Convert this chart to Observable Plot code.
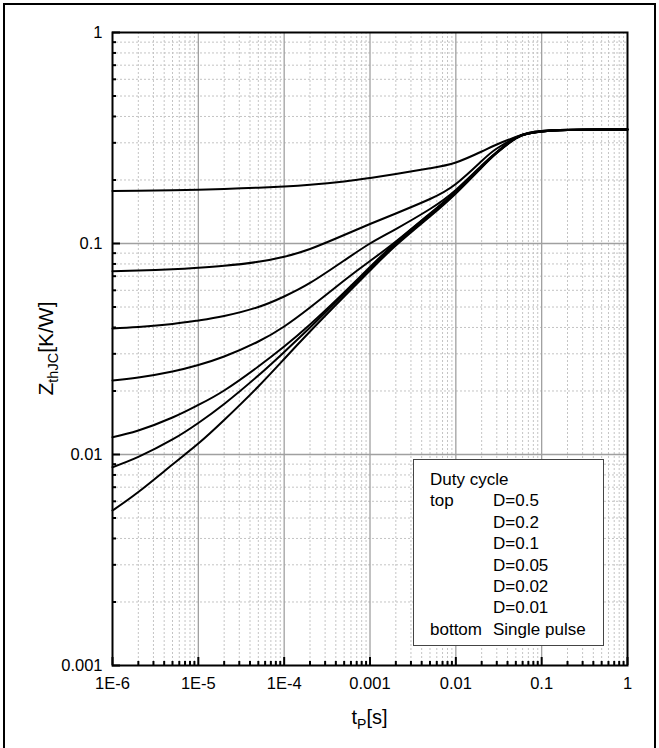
<!DOCTYPE html>
<html><head><meta charset="utf-8">
<script src="https://cdn.jsdelivr.net/npm/d3@7"></script>
<script src="https://cdn.jsdelivr.net/npm/@observablehq/plot@0.6"></script>
<style>
body{margin:0;background:#fff;font-family:Arial,"Liberation Sans",sans-serif;}
#wrap{position:relative;width:659px;height:748px;overflow:hidden;}
#chart{position:absolute;left:0;top:0;}
#border{position:absolute;left:3px;top:3px;width:649px;height:760px;border:2px solid #000;}
#legend{position:absolute;left:413px;top:459px;width:189px;height:185px;border:1px solid #444;background:#fff;font-size:17px;color:#000;}
#legend .row{position:absolute;left:0;height:21px;white-space:nowrap;}
#legend .c1{position:absolute;left:16px;}
#legend .c2{position:absolute;left:79px;}
</style></head><body>
<div id="wrap"><div id="border"></div><div id="chart"></div><div id="legend"></div></div>
<script>
// pulse duration t_P [s]
const tP = [1e-6, 2e-6, 5e-6, 1e-5, 2e-5, 5e-5, 1e-4, 2e-4, 5e-4, 1e-3, 2e-3, 5e-3, 1e-2, 2e-2, 3e-2, 5e-2, 7e-2, 1e-1, 2e-1, 5e-1, 1];
// Z_thJC [K/W] per duty cycle
const zD050 = [0.1774, 0.1780, 0.1789, 0.1799, 0.1813, 0.1839, 0.1863, 0.1897, 0.1967, 0.2044, 0.2135, 0.2272, 0.2421, 0.2729, 0.2946, 0.3197, 0.3340, 0.3414, 0.3459, 0.347, 0.347];
const zD020 = [0.07391, 0.07447, 0.07546, 0.07670, 0.07840, 0.08190, 0.08650, 0.09417, 0.1097, 0.1237, 0.1388, 0.1625, 0.1914, 0.2460, 0.2819, 0.3180, 0.3340, 0.3414, 0.3459, 0.347, 0.347];
const zD010 = [0.03956, 0.04021, 0.04155, 0.04317, 0.04533, 0.05001, 0.05609, 0.06500, 0.08306, 0.1000, 0.1171, 0.1457, 0.1793, 0.2343, 0.2715, 0.3162, 0.3321, 0.3395, 0.3451, 0.347, 0.347];
const zD005 = [0.02243, 0.02317, 0.02474, 0.02656, 0.02914, 0.03432, 0.04043, 0.04973, 0.06677, 0.08262, 0.1022, 0.1388, 0.1763, 0.2325, 0.2706, 0.3158, 0.3321, 0.3395, 0.3451, 0.347, 0.347];
const zD002 = [0.01208, 0.01299, 0.01497, 0.01717, 0.02011, 0.02613, 0.03250, 0.04132, 0.05860, 0.07738, 0.1011, 0.1380, 0.1754, 0.2317, 0.2700, 0.3155, 0.3321, 0.3395, 0.3451, 0.347, 0.347];
const zD001 = [0.008707, 0.009741, 0.01178, 0.01410, 0.01735, 0.02368, 0.03061, 0.03999, 0.05765, 0.07612, 0.09945, 0.1365, 0.1745, 0.2305, 0.2691, 0.3152, 0.3321, 0.3395, 0.3451, 0.347, 0.347];
const zSingle = [0.005427, 0.006642, 0.008967, 0.01127, 0.01457, 0.02101, 0.02835, 0.03828, 0.05609, 0.07447, 0.09784, 0.1343, 0.1726, 0.2292, 0.2685, 0.3145, 0.3321, 0.3395, 0.3451, 0.347, 0.347];
const seriesLabels = ["D=0.5", "D=0.2", "D=0.1", "D=0.05", "D=0.02", "D=0.01", "Single pulse"];
const seriesValues = [zD050, zD020, zD010, zD005, zD002, zD001, zSingle];

const xTicks = [1e-6, 1e-5, 1e-4, 1e-3, 1e-2, 1e-1, 1];
const xTickLabels = ["1E-6", "1E-5", "1E-4", "0.001", "0.01", "0.1", "1"];
const yTicks = [0.001, 0.01, 0.1, 1];
const yTickLabels = ["0.001", "0.01", "0.1", "1"];
const legendTitle = "Duty cycle";
const legendLeft = ["top", "", "", "", "", "", "bottom"];

const rows = seriesLabels.flatMap((s, j) => tP.map((t, i) => ({series: s, t, z: seriesValues[j][i]})));

const W = 659, H = 748, mL = 112, mR = 32, mT = 32, mB = 83;
const fw = W - mL - mR, fh = H - mT - mB;
const minorOf = majors => majors.slice(0, -1).flatMap(d => [2,3,4,5,6,7,8,9].map(k => d * k));
const xMinor = minorOf(xTicks), yMinor = minorOf(yTicks);
const xLab = new Map(xTicks.map((v, i) => [v, xTickLabels[i]]));
const yLab = new Map(yTicks.map((v, i) => [v, yTickLabels[i]]));

const chart = Plot.plot({
  width: W, height: H,
  marginLeft: mL, marginRight: mR, marginTop: mT, marginBottom: mB,
  style: {fontFamily: 'Arial, "Liberation Sans", sans-serif', color: "#000", background: "transparent", overflow: "visible"},
  x: {type: "log", domain: [xTicks[0], xTicks[xTicks.length - 1]]},
  y: {type: "log", domain: [yTicks[0], yTicks[yTicks.length - 1]]},
  marks: [
    Plot.ruleX(xMinor, {stroke: "#c4c4c4", strokeWidth: 1, strokeDasharray: "2,2"}),
    Plot.ruleY(yMinor, {stroke: "#c4c4c4", strokeWidth: 1, strokeDasharray: "2,2"}),
    Plot.ruleX(xTicks.slice(1, -1), {stroke: "#a0a0a0", strokeWidth: 1.3}),
    Plot.ruleY(yTicks.slice(1, -1), {stroke: "#a0a0a0", strokeWidth: 1.3}),
    Plot.ruleX(xMinor, {stroke: "#000", strokeWidth: 2, insetTop: fh - 4}),
    Plot.ruleX(xTicks, {stroke: "#000", strokeWidth: 2, insetTop: fh - 8}),
    Plot.ruleY(yMinor, {stroke: "#000", strokeWidth: 2, insetRight: fw - 4}),
    Plot.ruleY(yTicks, {stroke: "#000", strokeWidth: 2, insetRight: fw - 8}),
    Plot.line(rows, {x: "t", y: "z", z: "series", stroke: "#000", strokeWidth: 2, curve: "natural"}),
    Plot.frame({stroke: "#000", strokeWidth: 2}),
    Plot.axisX({ticks: xTicks, tickFormat: d => xLab.get(d), tickSize: 0, tickPadding: 12, fontSize: 16.5, label: null}),
    Plot.axisY({ticks: yTicks, tickFormat: d => yLab.get(d), tickSize: 0, tickPadding: 10, fontSize: 16.5, label: null})
  ]
});
document.getElementById("chart").appendChild(chart);

// axis titles with subscripts
const svg = d3.select(chart);
const xt = svg.append("text").attr("x", mL + fw / 2).attr("y", 724).attr("text-anchor", "middle")
  .attr("font-size", 20).attr("fill", "#000");
xt.append("tspan").text("t");
xt.append("tspan").attr("font-size", 14).attr("dy", 5).text("P");
xt.append("tspan").attr("dy", -5).text("[s]");

const yt = svg.append("text").attr("transform", `translate(53,${mT + fh / 2}) rotate(-90)`)
  .attr("text-anchor", "middle").attr("font-size", 21).attr("fill", "#000");
yt.append("tspan").text("Z");
yt.append("tspan").attr("font-size", 14.5).attr("dy", 5).text("thJC");
yt.append("tspan").attr("dy", -5).text("[K/W]");

// legend
const leg = document.getElementById("legend");
const lines = [[legendTitle, ""]].concat(seriesLabels.map((s, i) => [legendLeft[i], s]));
lines.forEach((l, i) => {
  const r = document.createElement("div");
  r.className = "row";
  r.style.top = (10 + i * 21.4) + "px";
  if (i === 0) {
    r.innerHTML = `<span class="c1">${l[0]}</span>`;
  } else {
    r.innerHTML = `<span class="c1">${l[0]}</span><span class="c2">${l[1]}</span>`;
  }
  leg.appendChild(r);
});
</script>
</body></html>
